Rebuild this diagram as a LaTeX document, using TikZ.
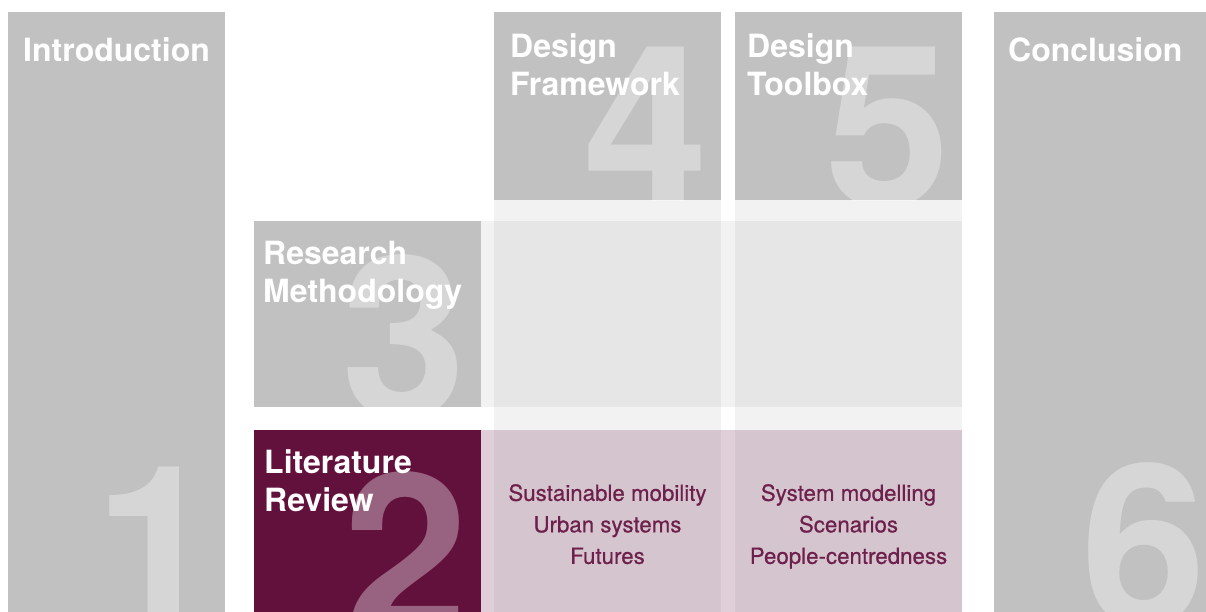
\documentclass[tikz,border=0pt]{standalone}
\usepackage{fontspec}
\setmainfont{TeX Gyre Heros}
\newfontfamily\topicfont{TeX Gyre Heros}[FakeBold=0.6]
\definecolor{chapgray}{RGB}{193,193,193}
\definecolor{litpurple}{RGB}{98,16,60}
\definecolor{topictext}{RGB}{110,32,76}
\tikzset{
  chapter/.style={fill=chapgray, anchor=north west, inner sep=0pt, minimum width=227pt},
  heading/.style={anchor=north west, inner sep=0pt, align=left, text=white,
    font=\fontsize{32}{38}\selectfont\bfseries},
  bignum/.style={anchor=base east, inner sep=0pt, text=white, text opacity=0.35,
    font=\fontsize{225}{225}\selectfont\bfseries},
  topics/.style={anchor=north, inner sep=0pt, align=center, text=topictext,
    font=\fontsize{22.3}{31.5}\topicfont},
  shadecol/.style={fill=black, fill opacity=0.05},
}
\begin{document}
\begin{tikzpicture}[x=1pt,y=-1pt]
  \useasboundingbox (0,0) rectangle (1206,612);

  \fill[shadecol] (494,200) rectangle (721,612);
  \fill[shadecol] (735,200) rectangle (962,612);
  \fill[shadecol] (481,221) rectangle (962,407);
  \fill[litpurple, fill opacity=0.2] (481,430) rectangle (962,612);

  \node[chapter, minimum width=217pt, minimum height=600pt] (intro) at (8,12) {};
  \node[chapter, minimum height=188pt] (frame) at (494,12) {};
  \node[chapter, minimum height=188pt] (toolbox) at (735,12) {};
  \node[chapter, minimum height=186pt] (method) at (254,221) {};
  \node[chapter, fill=litpurple, minimum height=182pt] (lit) at (254,430) {};
  \node[chapter, minimum width=212pt, minimum height=600pt] (concl) at (994,12) {};

  \foreach \chap/\num/\x/\y in {intro/1/220/626, lit/2/469/634, method/3/467/417,
      frame/4/709/207, toolbox/5/951/207, concl/6/1207/625} {
    \begin{scope}
      \clip (\chap.north west) rectangle (\chap.south east);
      \node[bignum] (num\num) at (\x,\y) {\num};
    \end{scope}
  }

  \node[heading] (introtitle) at (23,37) {Introduction};
  \node[heading] (frametitle) at (510,33) {Design\\Framework};
  \node[heading] (tooltitle) at (747,33) {Design\\Toolbox};
  \node[heading] (methodtitle) at (263,241) {Research\\Methodology};
  \node[heading] (littitle) at (264,449) {Literature\\Review};
  \node[heading] (concltitle) at (1008,37) {Conclusion};

  \node[topics] (mobility) at (607.5,484) {Sustainable mobility\\Urban systems\\Futures};
  \node[topics] (modelling) at (848.5,484) {System modelling\\Scenarios\\People-centredness};
\end{tikzpicture}
\end{document}
